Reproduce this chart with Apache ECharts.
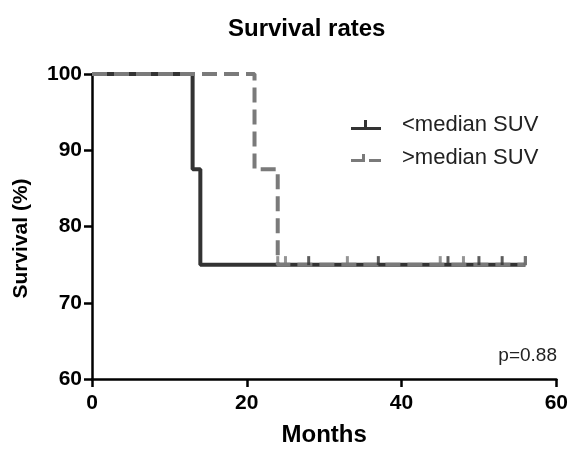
<!DOCTYPE html>
<html>
<head>
<meta charset="utf-8">
<script src="https://cdn.jsdelivr.net/npm/echarts@6/dist/echarts.min.js"></script>
<style>
  html, body { margin: 0; padding: 0; background: #fff; }
  #chart { width: 571px; height: 452px; }
</style>
</head>
<body>
<div id="chart"></div>
<script>
// 生存曲线数据（月, 生存率%）
var lowTimes = [0, 13, 14, 56];
var lowSurv = [100, 87.5, 75, 75];
var highTimes = [0, 21, 24, 56];
var highSurv = [100, 87.5, 75, 75];
// 删失点（月）
var lowCensor = [28, 37, 46, 50, 53, 56];
var highCensor = [24, 25, 33, 45, 48, 56];
var censorLevel = 75;
var xTicks = [0, 20, 40, 60];
var yTicks = [60, 70, 80, 90, 100];

var font = 'Arial, "Liberation Sans", sans-serif';
var darkColor = '#333333';
var grayColor = '#7a7a7a';

function zipPts(xs, ys) {
	var out = [];
	for (var i = 0; i < xs.length; i++) {
		out.push([xs[i], ys[i]]);
	}
	return out;
}
function censorPts(xs) {
	return xs.map(function (t) { return [t, censorLevel]; });
}

// 图例图标：带删失标记的线段
var solidIcon = 'path://M0,7 H30 V10 H0 Z M13,0 H16 V8 H13 Z';
var dashIcon = 'path://M0,7 H11 V10 H0 Z M11,2 H14 V10 H11 Z M18,7 H30 V10 H18 Z';

var chart = echarts.init(document.getElementById('chart'));
var option = {
	backgroundColor: '#fff',
	animation: false,
	title: {
		text: 'Survival rates',
		left: 223,
		top: 12,
		textStyle: { fontFamily: font, fontSize: 24, fontWeight: 'bold', color: '#000' }
	},
	legend: {
		orient: 'vertical',
		left: 346,
		top: 109,
		itemWidth: 30,
		itemHeight: 10,
		itemGap: 11,
		data: [
			{ name: '<median SUV', icon: solidIcon, itemStyle: { color: darkColor } },
			{ name: '>median SUV', icon: dashIcon, itemStyle: { color: grayColor } }
		],
		textStyle: { fontFamily: font, fontSize: 22, color: '#222', padding: [0, 0, 0, 16] }
	},
	grid: { left: 92, right: 13, top: 74, bottom: 68, containLabel: false },
	xAxis: {
		type: 'value',
		min: 0,
		max: 60,
		interval: 20,
		name: 'Months',
		nameLocation: 'middle',
		nameGap: 44,
		nameTextStyle: { fontFamily: font, fontSize: 24, fontWeight: 'bold', color: '#000' },
		axisLine: { lineStyle: { color: '#000', width: 2.5 } },
		axisTick: { length: 8, lineStyle: { color: '#000', width: 2.5 } },
		axisLabel: {
			fontFamily: font, fontSize: 21, fontWeight: 'bold', color: '#000', margin: 14,
			formatter: function (v) { return xTicks.indexOf(v) >= 0 ? v : ''; }
		},
		splitLine: { show: false }
	},
	yAxis: {
		type: 'value',
		min: 60,
		max: 100,
		interval: 10,
		name: 'Survival (%)',
		nameLocation: 'middle',
		nameGap: 60,
		nameTextStyle: {
			fontFamily: font, fontSize: 21, fontWeight: 'bold', color: '#000',
			padding: [0, 24, 0, 0]
		},
		axisLine: { show: true, lineStyle: { color: '#000', width: 2.5 } },
		axisTick: { show: true, length: 8, lineStyle: { color: '#000', width: 2.5 } },
		axisLabel: {
			fontFamily: font, fontSize: 21, fontWeight: 'bold', color: '#000', margin: 10,
			formatter: function (v) { return yTicks.indexOf(v) >= 0 ? v : ''; }
		},
		splitLine: { show: false }
	},
	series: [{
		name: '<median SUV',
		type: 'line',
		step: 'end',
		symbol: 'none',
		data: zipPts(lowTimes, lowSurv),
		itemStyle: { color: darkColor },
		lineStyle: { color: darkColor, width: 4 },
		z: 2
	}, {
		name: '>median SUV',
		type: 'line',
		step: 'end',
		symbol: 'none',
		data: zipPts(highTimes, highSurv),
		itemStyle: { color: grayColor },
		lineStyle: { color: grayColor, width: 4, type: [15, 7] },
		z: 3
	}, {
		name: '<median SUV',
		type: 'scatter',
		symbol: 'rect',
		symbolSize: [3, 9],
		symbolOffset: [0, -4],
		data: censorPts(lowCensor),
		itemStyle: { color: darkColor },
		z: 4
	}, {
		name: '>median SUV',
		type: 'scatter',
		symbol: 'rect',
		symbolSize: [3, 9],
		symbolOffset: [0, -4],
		data: censorPts(highCensor),
		itemStyle: { color: grayColor },
		z: 4
	}],
	graphic: [{
		type: 'text',
		right: 14,
		top: 346,
		style: { text: 'p=0.88', fontFamily: font, fontSize: 19, fill: '#222' }
	}]
};
chart.setOption(option);
</script>
</body>
</html>
